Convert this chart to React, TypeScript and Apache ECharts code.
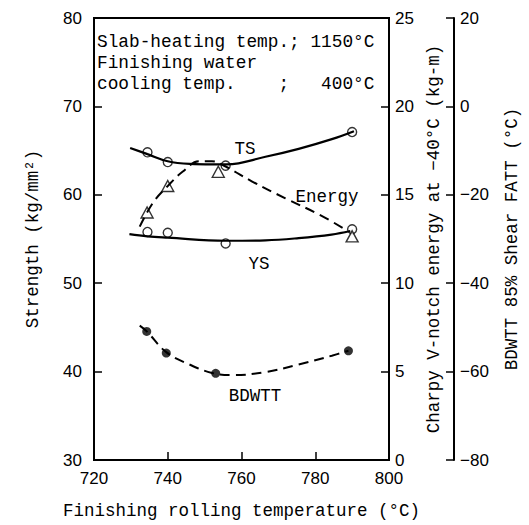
import React, { useEffect, useRef } from "react";
import * as echarts from "echarts";

// x: finishing rolling temperature (°C)
const tsPointX = [734.5, 740, 755.7, 790];
const tsPointY = [64.8, 63.7, 63.3, 67.1];
const tsCurveX = [729.8, 734.5, 740, 746, 752, 756, 766.5, 775.5, 784.5, 790.5];
const tsCurveY = [65.3, 64.6, 63.8, 63.5, 63.45, 63.45, 64.3, 65.2, 66.3, 67.2];

const ysPointX = [734.5, 740, 755.7, 790];
const ysPointY = [55.8, 55.7, 54.5, 56.1];
const ysCurveX = [729.6, 734.5, 740, 755.8, 766.5, 775.5, 784.4, 789.5];
const ysCurveY = [55.55, 55.3, 55.15, 54.8, 54.85, 55.1, 55.5, 55.9];

const energyPointX = [734.4, 740, 753.7, 790];
const energyPointY = [14.0, 15.5, 16.3, 12.65];
const energyCurveX = [732.4, 736, 740, 744, 748.5, 752, 755.7, 762.9, 771.9, 780.9, 788.5];
const energyCurveY = [13.2, 14.55, 15.5, 16.3, 16.9, 16.9, 16.6, 15.75, 14.8, 13.9, 13.0];

const bdwttPointX = [734.3, 739.6, 753, 789];
const bdwttPointY = [-50.9, -55.8, -60.4, -55.3];
const bdwttCurveX = [732.4, 734.3, 739.6, 745.9, 752, 757.5, 766.5, 775.5, 784.5, 789];
const bdwttCurveY = [-49.6, -50.9, -55.6, -58.4, -60.3, -60.8, -60.1, -58.4, -56.4, -55.3];

const xRange = [720, 800, 20];
const strengthRange = [30, 80, 10];
const energyRange = [0, 25, 5];
const fattRange = [-80, 20, 20];

const annotationLines = [
  "Slab-heating temp.; 1150°C",
  "Finishing water",
  "cooling temp.    ;   400°C",
];

const MONO = "'Liberation Mono', 'DejaVu Sans Mono', monospace";
const SANS = "'Liberation Sans', Arial, sans-serif";

const zip = (xs: number[], ys: number[]) => xs.map((x, i) => [x, ys[i]]);

export default function App() {
  const ref = useRef<HTMLDivElement>(null);
  useEffect(() => {
    if (!ref.current) return;
    const chart = echarts.init(ref.current, null, { renderer: "svg" });
    const axisLine = { show: true, lineStyle: { color: "#000", width: 2 } };
    const axisTick = { show: true, inside: true, length: 8, lineStyle: { color: "#000", width: 1.5 } };
    const labelStyle = { color: "#000", fontFamily: SANS, fontSize: 17 };
    const nameStyle = { color: "#000", fontFamily: MONO, fontSize: 17.5 };
    const minusFmt = (v: number) => String(v).replace("-", "\u2212");
    const circle = { color: "#fff", borderColor: "#000", borderWidth: 1.4 };
    const solid = { color: "#000", width: 2.2, type: "solid" as const };
    const dashed = { color: "#000", width: 2, type: [10, 6] as any };

    chart.setOption({
      animation: false,
      backgroundColor: "#fff",
      grid: {
        left: 94,
        right: 138,
        top: 18,
        bottom: 59,
        show: true,
        borderColor: "#000",
        borderWidth: 2,
        containLabel: false,
      },
      xAxis: {
        type: "value",
        min: xRange[0],
        max: xRange[1],
        interval: xRange[2],
        name: "Finishing rolling temperature (°C)",
        nameLocation: "middle",
        nameGap: 42,
        nameTextStyle: nameStyle,
        axisLine,
        axisTick,
        splitLine: { show: false },
        axisLabel: { ...labelStyle, margin: 10 },
      },
      yAxis: [
        {
          type: "value",
          position: "left",
          min: strengthRange[0],
          max: strengthRange[1],
          interval: strengthRange[2],
          name: "Strength (kg/mm²)",
          nameLocation: "middle",
          nameRotate: 90,
          nameGap: 52,
          nameTextStyle: nameStyle,
          axisLine,
          axisTick,
          splitLine: { show: false },
          axisLabel: { ...labelStyle, margin: 12 },
        },
        {
          type: "value",
          position: "right",
          min: energyRange[0],
          max: energyRange[1],
          interval: energyRange[2],
          name: "Charpy V-notch energy at \u221240°C (kg-m)",
          nameLocation: "middle",
          nameRotate: 90,
          nameGap: 36,
          nameTextStyle: nameStyle,
          axisLine,
          axisTick,
          splitLine: { show: false },
          axisLabel: { ...labelStyle, margin: 6 },
        },
        {
          type: "value",
          position: "right",
          offset: 65,
          min: fattRange[0],
          max: fattRange[1],
          interval: fattRange[2],
          name: "BDWTT 85% Shear FATT (°C)",
          nameLocation: "middle",
          nameRotate: 90,
          nameGap: 49,
          nameTextStyle: nameStyle,
          axisLine,
          axisTick,
          splitLine: { show: false },
          axisLabel: { ...labelStyle, margin: 6, formatter: minusFmt },
        },
      ],
      graphic: [
        ...annotationLines.map((t, i) => ({
          type: "text",
          left: 97,
          top: 33 + i * 21,
          style: { text: t, fill: "#000", font: `17.8px ${MONO}` },
        })),
        { type: "text", x: 245, y: 149, style: { text: "TS", fill: "#000", font: `17.5px ${MONO}`, align: "center", verticalAlign: "middle" } },
        { type: "text", x: 327, y: 197, style: { text: "Energy", fill: "#000", font: `17.5px ${MONO}`, align: "center", verticalAlign: "middle" } },
        { type: "text", x: 259, y: 264, style: { text: "YS", fill: "#000", font: `17.5px ${MONO}`, align: "center", verticalAlign: "middle" } },
        { type: "text", x: 255, y: 396, style: { text: "BDWTT", fill: "#000", font: `17.5px ${MONO}`, align: "center", verticalAlign: "middle" } },
      ],
      series: [
        { name: "TS curve", type: "line", yAxisIndex: 0, data: zip(tsCurveX, tsCurveY), smooth: 0.4, showSymbol: false, lineStyle: solid },
        { name: "YS curve", type: "line", yAxisIndex: 0, data: zip(ysCurveX, ysCurveY), smooth: 0.4, showSymbol: false, lineStyle: solid },
        { name: "Energy curve", type: "line", yAxisIndex: 1, data: zip(energyCurveX, energyCurveY), smooth: 0.4, showSymbol: false, lineStyle: dashed },
        { name: "BDWTT curve", type: "line", yAxisIndex: 2, data: zip(bdwttCurveX, bdwttCurveY), smooth: 0.4, showSymbol: false, lineStyle: dashed },
        { name: "TS", type: "scatter", yAxisIndex: 0, data: zip(tsPointX, tsPointY), symbol: "circle", symbolSize: 9, itemStyle: circle },
        { name: "YS", type: "scatter", yAxisIndex: 0, data: zip(ysPointX, ysPointY), symbol: "circle", symbolSize: 9, itemStyle: circle },
        { name: "Energy", type: "scatter", yAxisIndex: 1, data: zip(energyPointX, energyPointY), symbol: "triangle", symbolSize: [12, 11], itemStyle: circle },
        { name: "BDWTT", type: "scatter", yAxisIndex: 2, data: zip(bdwttPointX, bdwttPointY), symbol: "circle", symbolSize: 9, itemStyle: { color: "#000" } },
      ],
    });
    return () => chart.dispose();
  }, []);
  return <div ref={ref} style={{ width: 529, height: 525, position: "absolute", left: 0, top: 0 }} />;
}
